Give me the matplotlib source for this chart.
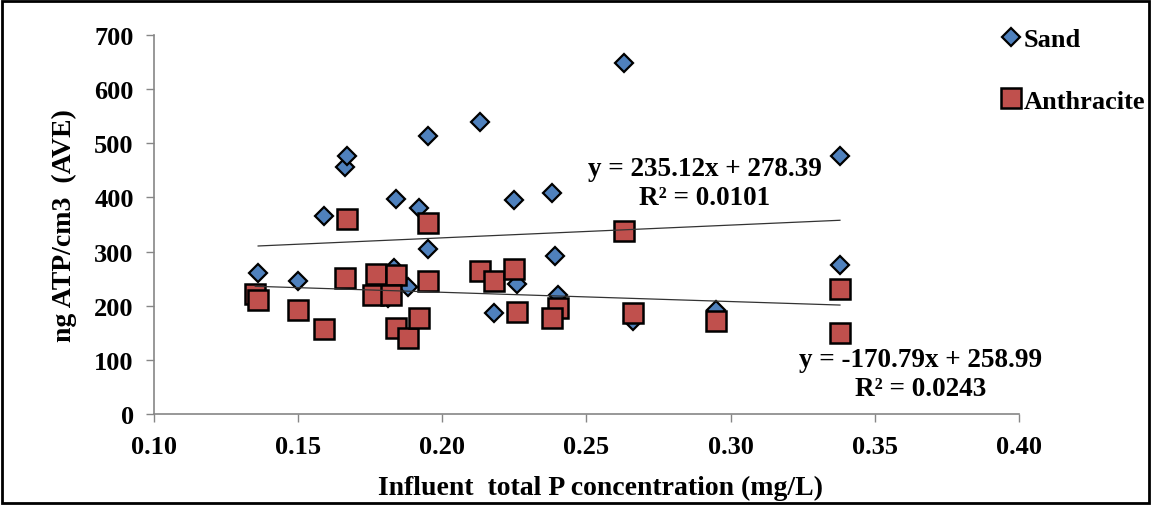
import numpy as np
import matplotlib
matplotlib.use('Agg')
import matplotlib.pyplot as plt
from matplotlib.patches import Rectangle

# influent total P (mg/L) and ATP (ng/cm3)
sand_x = [0.136, 0.150, 0.159, 0.166, 0.167, 0.181, 0.183, 0.184, 0.188, 0.192,
          0.195, 0.195, 0.213, 0.218, 0.225, 0.226, 0.238, 0.239, 0.240, 0.263,
          0.266, 0.295, 0.338, 0.338]
sand_y = [260, 245, 365, 457, 477, 215, 270, 397, 234, 381,
          514, 305, 539, 187, 395, 240, 408, 291, 219, 649,
          172, 192, 476, 276]

anth_x = [0.135, 0.136, 0.150, 0.159, 0.166, 0.167, 0.177, 0.176, 0.184, 0.182,
          0.184, 0.188, 0.192, 0.195, 0.195, 0.213, 0.218, 0.225, 0.226, 0.240,
          0.238, 0.263, 0.266, 0.295, 0.338, 0.338]
anth_y = [222, 211, 192, 157, 251, 360, 259, 219, 257, 219,
          159, 140, 177, 353, 245, 264, 245, 267, 188, 195,
          178, 338, 187, 171, 230, 150]

# trendline coefficients as printed on the chart
sand_fit = (235.12, 278.39, 0.0101)
anth_fit = (-170.79, 258.99, 0.0243)

xticks = [0.10, 0.15, 0.20, 0.25, 0.30, 0.35, 0.40]
yticks = [0, 100, 200, 300, 400, 500, 600, 700]

plt.rcParams['font.family'] = 'Liberation Serif'
plt.rcParams['font.weight'] = 'bold'

fig = plt.figure(figsize=(11.51, 5.06), dpi=100)
ax = fig.add_axes([0.1342, 0.1798, 0.7507, 0.7490])

ax.plot(sand_x, sand_y, 'D', color='#4F81BD', markeredgecolor='black',
        markeredgewidth=1.6, markersize=9.3, label='Sand', zorder=3)
ax.plot(anth_x, anth_y, 's', color='#C0504D', markeredgecolor='black',
        markeredgewidth=1.8, markersize=14, label='Anthracite', zorder=4)

for xs, (m, b, r2) in ((sand_x, sand_fit), (anth_x, anth_fit)):
    lx = np.array([min(xs), max(xs)])
    ax.plot(lx, m * lx + b, color='#333333', linewidth=0.9, zorder=5)

ax.text(0.2911, 427, 'y = %.2fx + %.2f\nR² = %.4f' % sand_fit, ha='center', va='center',
        fontsize=19.5, fontweight='bold', linespacing=1.2, zorder=6)
ax.text(0.3661, 74, 'y = %.2fx + %.2f\nR² = %.4f' % anth_fit, ha='center', va='center',
        fontsize=19.5, fontweight='bold', linespacing=1.2, zorder=6)

ax.set_xlim(0.10, 0.40)
ax.set_ylim(0, 700)
ax.set_xticks(xticks)
ax.set_xticklabels(['%.2f' % t for t in xticks])
ax.set_yticks(yticks)
for s in ('top', 'right'):
    ax.spines[s].set_visible(False)
for s in ('left', 'bottom'):
    ax.spines[s].set_color('#868686')
    ax.spines[s].set_linewidth(1.2)
ax.tick_params(axis='both', direction='out', color='#868686', width=1.0,
               length=6, labelsize=19, pad=9)
for lab in ax.get_xticklabels() + ax.get_yticklabels():
    lab.set_fontweight('bold')

ax.set_xlabel('Influent  total P concentration (mg/L)', fontsize=20,
              fontweight='bold', labelpad=12)
ax.xaxis.label.set_x(0.516)
ax.set_ylabel('ng ATP/cm3  (AVE)', fontsize=20, fontweight='bold', labelpad=12)

fig.legend(loc='upper left', bbox_to_anchor=(0.8714, 0.944), frameon=False,
           fontsize=19, handlelength=0.6, handletextpad=0.2, labelspacing=1.45,
           borderpad=0, borderaxespad=0)

fig.patches.append(Rectangle((0.002, 0.003), 0.996, 0.994, transform=fig.transFigure,
                             fill=False, edgecolor='black', linewidth=2))

fig.savefig('out.png', dpi=100)
